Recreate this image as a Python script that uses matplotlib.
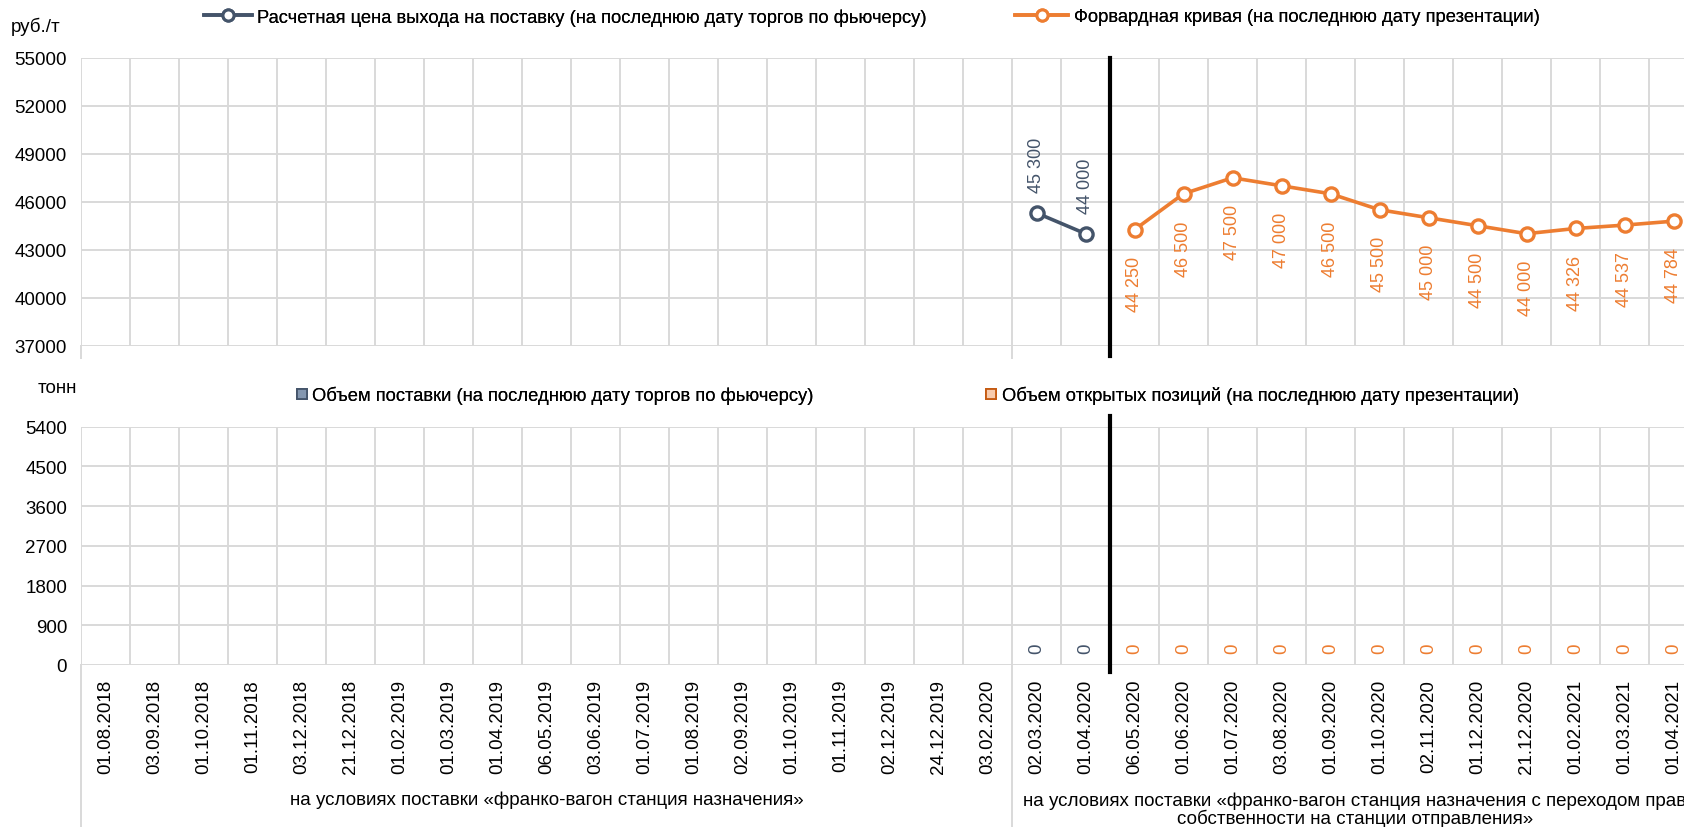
import numpy as np
import matplotlib.pyplot as plt
from matplotlib.lines import Line2D

plt.rcParams['font.family'] = ['Liberation Sans', 'DejaVu Sans']

# даты торгов (общая ось для обоих графиков)
dates = ['01.08.2018', '03.09.2018', '01.10.2018', '01.11.2018', '03.12.2018',
         '21.12.2018', '01.02.2019', '01.03.2019', '01.04.2019', '06.05.2019',
         '03.06.2019', '01.07.2019', '01.08.2019', '02.09.2019', '01.10.2019',
         '01.11.2019', '02.12.2019', '24.12.2019', '03.02.2020', '02.03.2020',
         '01.04.2020', '06.05.2020', '01.06.2020', '01.07.2020', '03.08.2020',
         '01.09.2020', '01.10.2020', '02.11.2020', '01.12.2020', '21.12.2020',
         '01.02.2021', '01.03.2021', '01.04.2021']

# расчетная цена выхода на поставку, руб./т
fact_dates = ['02.03.2020', '01.04.2020']
fact_price = [45300, 44000]
fact_volume = [0, 0]

# форвардная кривая, руб./т
fwd_dates = ['06.05.2020', '01.06.2020', '01.07.2020', '03.08.2020', '01.09.2020',
             '01.10.2020', '02.11.2020', '01.12.2020', '21.12.2020', '01.02.2021',
             '01.03.2021', '01.04.2021']
fwd_price = [44250, 46500, 47500, 47000, 46500, 45500, 45000, 44500, 44000,
             44326, 44537, 44784]
open_volume = [0, 0, 0, 0, 0, 0, 0, 0, 0, 0, 0, 0]

groups = ['на условиях поставки «франко-вагон станция назначения»',
          'на условиях поставки «франко-вагон станция назначения с переходом прав\n'
          'собственности на станции отправления»']
group_sizes = [19, 14]

BLUE = '#44546A'
ORANGE = '#ED7D31'
GRID = '#D9D9D9'
FS = 13.5
LEG_FS = 13.2


def fmt(v):
    return f'{v:,.0f}'.replace(',', ' ')


n = len(dates)
xf = [dates.index(d) for d in fact_dates]
xo = [dates.index(d) for d in fwd_dates]
split = (xf[-1] + xo[0]) / 2

W, H = 1684, 828
fig = plt.figure(figsize=(W / 100, H / 100), dpi=100)

left = 81 / W
width = 33 * 49 / W
ax1 = fig.add_axes([left, 1 - 346.5 / H, width, (346.5 - 59) / H])
ax2 = fig.add_axes([left, 1 - 666 / H, width, (666 - 427.5) / H])

for ax in (ax1, ax2):
    ax.set_xlim(-0.5, n - 0.5)
    ax.set_xticks(np.arange(-0.5, n, 1), minor=True)
    ax.grid(which='minor', axis='x', color=GRID, lw=1.4)
    ax.grid(which='major', axis='y', color=GRID, lw=1.4)
    ax.set_axisbelow(True)
    for s in ax.spines.values():
        s.set_visible(False)
    ax.tick_params(which='both', length=0, labelsize=FS, pad=10)

# верхний график: цены
ax1.set_ylim(37000, 55000)
ax1.set_yticks(range(37000, 55001, 3000))
ax1.set_xticks([])
ax1.plot(xf, fact_price, color=BLUE, lw=2.6, marker='o', ms=9.5, mew=2.4,
         mfc='white', mec=BLUE, zorder=3)
ax1.plot(xo, fwd_price, color=ORANGE, lw=2.6, marker='o', ms=9.5, mew=2.4,
         mfc='white', mec=ORANGE, zorder=3)
for x, v in zip(xf, fact_price):
    ax1.annotate(fmt(v), (x, v), xytext=(0, 15), textcoords='offset points',
                 rotation=90, ha='center', va='bottom', color=BLUE, fontsize=13)
for x, v in zip(xo, fwd_price):
    ax1.annotate(fmt(v), (x, v), xytext=(0, -19), textcoords='offset points',
                 rotation=90, ha='center', va='top', color=ORANGE, fontsize=13)
ax1.axvline(split, ymin=-0.038, ymax=1, color='black', lw=3, clip_on=False, zorder=4)
for xb in (-0.5, group_sizes[0] - 0.5):
    ax1.plot([xb, xb], [0, -0.045], transform=ax1.get_xaxis_transform(),
             color=GRID, lw=1.4, clip_on=False)

# нижний график: объемы
ax2.set_ylim(0, 5400)
ax2.set_yticks(range(0, 5401, 900))
ax2.bar(xf, fact_volume, width=0.6, color='#8497B0')
ax2.bar(xo, open_volume, width=0.6, color='#F4B183')
for x, v in zip(xf, fact_volume):
    ax2.annotate(fmt(v), (x, v), xytext=(0, 8.5), textcoords='offset points',
                 rotation=90, ha='center', va='bottom', color=BLUE, fontsize=FS)
for x, v in zip(xo, open_volume):
    ax2.annotate(fmt(v), (x, v), xytext=(0, 8.5), textcoords='offset points',
                 rotation=90, ha='center', va='bottom', color=ORANGE, fontsize=FS)
ax2.set_xticks(range(n))
ax2.set_xticklabels(dates, rotation=90)
ax2.tick_params(axis='x', pad=10)
ax2.axvline(split, ymin=-0.03, ymax=1.044, color='black', lw=3, clip_on=False, zorder=4)

# подписи групп под осью дат
axh = (666 - 427.5)
ybot = -(H - 666) / axh
start = -0.5
for g, size in zip(groups, group_sizes):
    ax2.plot([start, start], [0, ybot], transform=ax2.get_xaxis_transform(),
             color=GRID, lw=1.4, clip_on=False)
    # однострочная подпись на 800 px, двухстрочная центрирована на 810 px
    yc = 800 + 10 * g.count('\n')
    ax2.text(start + size / 2, -(yc - 666) / axh, g, transform=ax2.get_xaxis_transform(),
             ha='center', va='center', fontsize=FS, linespacing=0.95)
    start += size

# единицы измерения
fig.text(11 / W, 1 - 27 / H, 'руб./т', fontsize=FS, va='center', ha='left')
fig.text(38 / W, 1 - 389 / H, 'тонн', fontsize=FS, va='center', ha='left')

# легенды
line_kw = dict(lw=2.6, marker='o', ms=8, mew=2.2, mfc='white')
leg_kw = dict(frameon=False, fontsize=LEG_FS, borderpad=0, borderaxespad=0,
              handletextpad=0.3, loc='center left')
h1 = Line2D([], [], color=BLUE, mec=BLUE, **line_kw)
h2 = Line2D([], [], color=ORANGE, mec=ORANGE, **line_kw)
fig.add_artist(fig.legend([h1], ['Расчетная цена выхода на поставку (на последнюю дату торгов по фьючерсу)'],
                          bbox_to_anchor=(204 / W, 1 - 18 / H), handlelength=2.6, **leg_kw))
fig.add_artist(fig.legend([h2], ['Форвардная кривая (на последнюю дату презентации)'],
                          bbox_to_anchor=(1015 / W, 1 - 18 / H), handlelength=2.9, **leg_kw))
sq_kw = dict(ls='none', marker='s', ms=7.5, mew=1.3)
h3 = Line2D([], [], mfc='#8497B0', mec=BLUE, **sq_kw)
h4 = Line2D([], [], mfc='#F8CBAD', mec='#C55A11', **sq_kw)
fig.add_artist(fig.legend([h3], ['Объем поставки (на последнюю дату торгов по фьючерсу)'],
                          bbox_to_anchor=(296 / W, 1 - 396 / H), handlelength=0.6, **leg_kw))
fig.add_artist(fig.legend([h4], ['Объем открытых позиций (на последнюю дату презентации)'],
                          bbox_to_anchor=(985 / W, 1 - 396 / H), handlelength=0.6, **leg_kw))

plt.savefig('out.png', dpi=100)
